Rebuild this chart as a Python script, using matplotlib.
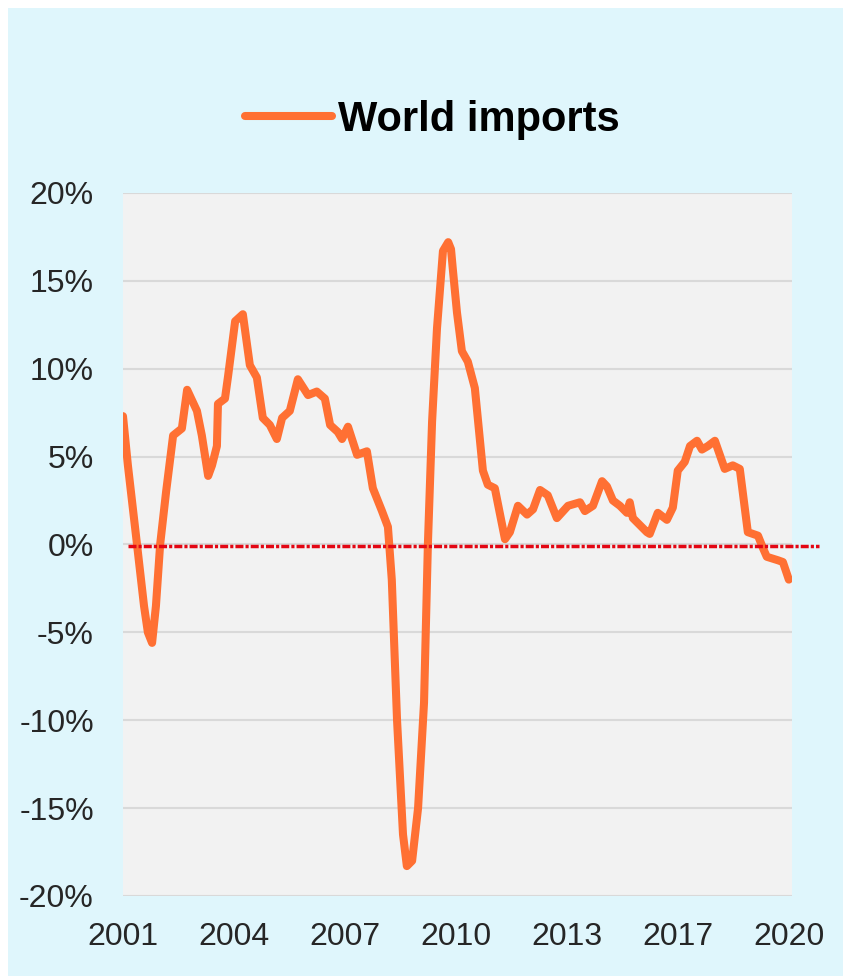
import numpy as np
import matplotlib.pyplot as plt
from matplotlib.patches import Rectangle

plt.rcParams['font.family'] = ['Liberation Sans', 'DejaVu Sans']

#values (decimal year, % growth)
years = [2001.00, 2001.14, 2001.40, 2001.60, 2001.71, 2001.83, 2001.94, 2002.06,
         2002.23, 2002.43, 2002.68, 2002.83, 2003.11, 2003.25, 2003.43, 2003.54,
         2003.68, 2003.71, 2003.91, 2004.00, 2004.20, 2004.42, 2004.62, 2004.82,
         2004.99, 2005.19, 2005.39, 2005.54, 2005.76, 2005.99, 2006.28, 2006.53,
         2006.76, 2006.91, 2007.13, 2007.25, 2007.42, 2007.68, 2007.96, 2008.13,
         2008.39, 2008.56, 2008.67, 2008.82, 2008.99, 2009.10, 2009.25, 2009.42,
         2009.59, 2009.70, 2009.82, 2009.96, 2010.13, 2010.28, 2010.36, 2010.41,
         2010.53, 2010.67, 2010.84, 2011.04, 2011.27, 2011.41, 2011.61, 2011.76,
         2011.90, 2012.04, 2012.27, 2012.53, 2012.70, 2012.90, 2013.12, 2013.38,
         2013.70, 2014.04, 2014.18, 2014.41, 2014.67, 2014.81, 2014.98, 2015.18,
         2015.38, 2015.46, 2015.55, 2015.95, 2016.03, 2016.26, 2016.52, 2016.69,
         2016.83, 2017.03, 2017.18, 2017.38, 2017.52, 2017.69, 2017.89, 2018.03,
         2018.17, 2018.40, 2018.60, 2018.83, 2019.12, 2019.26, 2019.37, 2019.69,
         2019.83, 2020.00]
imports = [7.3, 4.5, 0.0, -3.5, -5.0, -5.6, -3.5, 0.0,
           3.0, 6.2, 6.6, 8.8, 7.6, 6.2, 3.9, 4.5,
           5.6, 8.0, 8.3, 9.6, 12.7, 13.1, 10.2, 9.5,
           7.2, 6.8, 6.0, 7.2, 7.6, 9.4, 8.5, 8.7,
           8.3, 6.8, 6.4, 6.0, 6.7, 5.1, 5.3, 3.2,
           1.9, 1.0, -2.0, -10.0, -16.5, -18.3, -18.0, -15.0,
           -9.0, 0.0, 7.0, 12.3, 16.7, 17.2, 16.8, 15.7,
           13.2, 11.0, 10.4, 8.9, 4.2, 3.4, 3.2, 1.7,
           0.3, 0.7, 2.2, 1.7, 2.0, 3.1, 2.8, 1.5,
           2.2, 2.4, 1.9, 2.2, 3.6, 3.3, 2.5, 2.2,
           1.8, 2.4, 1.5, 0.7, 0.6, 1.8, 1.4, 2.1,
           4.2, 4.7, 5.6, 5.9, 5.4, 5.6, 5.9, 5.1,
           4.3, 4.5, 4.3, 0.7, 0.5, -0.2, -0.7, -0.9,
           -1.0, -2.0]

xlabels = ['2001', '2004', '2007', '2010', '2013', '2017', '2020']
yticks = [-20, -15, -10, -5, 0, 5, 10, 15, 20]

fig = plt.figure(figsize=(8.43, 9.76), dpi=100, facecolor='white')
#light cyan panel behind everything, thin white strip top and left
fig.patches.append(Rectangle((8 / 843, 0), 1, 1 - 8 / 976, transform=fig.transFigure,
                             facecolor='#dff6fc', edgecolor='none', zorder=-10))

ax = fig.add_axes([0.1459, 0.0820, 0.7936, 0.7203])
ax.set_facecolor('#f2f2f2')

ax.plot(years, imports, color='#ff7033', lw=5.8, solid_capstyle='round',
        solid_joinstyle='round', label='World imports', zorder=3)

#red zero line runs a little past the plot area on the right
ax.plot([0.008, 1.04], [-0.1, -0.1], transform=ax.get_yaxis_transform(), clip_on=False,
        color='#e30613', lw=2.5, linestyle=(0, (2.3, 0.6, 0.9, 0.6)), zorder=4)

ax.set_xlim(2001, 2020.09)
ax.set_ylim(-20, 20)
ax.set_xticks(np.linspace(2001, 2020, len(xlabels)))
ax.set_xticklabels(xlabels)
ax.set_yticks(yticks)
ax.set_yticklabels([str(v) + '%' for v in yticks])
ax.tick_params(length=0, labelsize=23, colors='#262626')
ax.tick_params(axis='x', pad=19)
ax.tick_params(axis='y', pad=21)
ax.grid(axis='y', color='#d9d9d9', lw=1.5)
ax.set_axisbelow(True)
for s in ax.spines.values():
    s.set_visible(False)

fig.legend(loc='center', bbox_to_anchor=(0.513, 0.877), frameon=False,
           prop={'size': 30, 'weight': 'bold'}, handlelength=2.1,
           handletextpad=0.15)

fig.savefig('out.png', dpi=100)
